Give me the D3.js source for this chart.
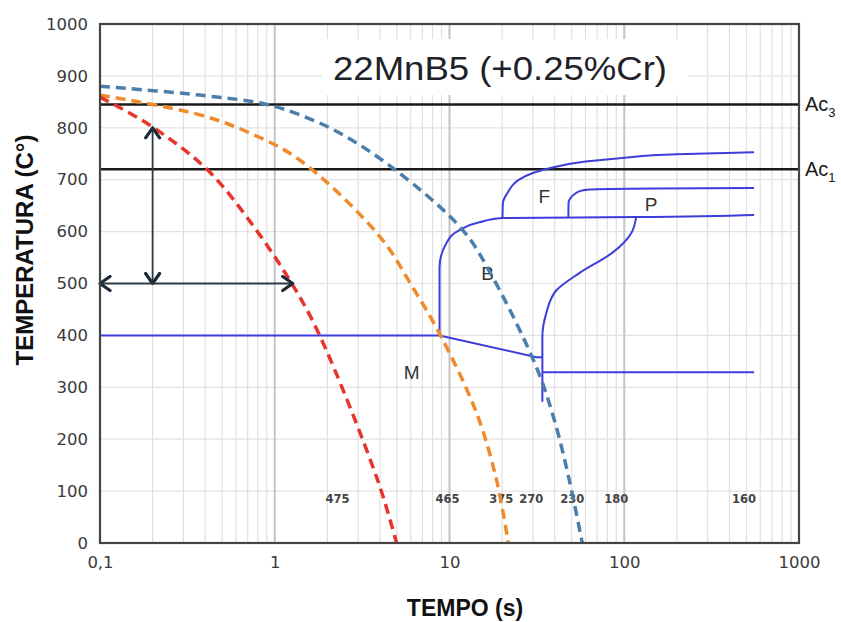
<!DOCTYPE html>
<html><head><meta charset="utf-8">
<script src="https://cdn.jsdelivr.net/npm/d3@7"></script>
<style>
html,body{margin:0;padding:0;background:#fff;}
svg{display:block;}
</style></head>
<body>
<svg id="chart" width="841" height="622"></svg>
<script>
// ---- data ----
const xTickValues = [0.1, 1, 10, 100, 1000];
const xTickLabels = ["0,1", "1", "10", "100", "1000"];
const yTickValues = [0, 100, 200, 300, 400, 500, 600, 700, 800, 900, 1000];

const acLevels = [845, 720];
const acNames = ["3", "1"];

// cooling curves [time s, temperature C]
const coolRed = [[0.1,859],[0.193,805],[0.409,720],[0.72,620],[1.267,497],[1.807,400],[3.88,121],[4.98,0]];
const coolOrange = [[0.1,863],[0.373,825],[0.72,790],[1.389,738],[3.98,591],[6.15,493],[8.88,400],[14.3,250],[18.6,121],[21.7,0]];
const coolBlue = [[0.1,880],[0.373,863],[0.877,846],[1.389,825],[2.352,790],[4.85,720],[11.9,603],[17.6,513],[31.4,339],[39.8,237],[48.5,121],[57.5,0]];

// transformation lines [time s, temperature C]
const msLine = [[0.1,400],[8.77,400],[31.4,358],[34,358]];
const bainiteStart = [[8.77,400],[8.77,532],[9.61,578],[11.4,603],[14.8,618],[20.1,626],[117,628],[553,632]];
const ferriteStart = [[20.1,626],[20.2,655],[21.5,675],[25,700],[30,713],[37.3,722],[60,735],[97.4,742],[200,749],[553,753]];
const pearliteStart = [[47.9,626],[48,655],[51.8,672],[57,679],[63.1,681],[150,683],[553,684]];
const pearliteNose = [[34,272],[34,397],[35.8,443],[40.9,487],[55.3,520],[85.3,559],[109.6,597],[117,628]];
const lowLine = [[34,329],[553,329]];

// hardness values and time where written
const hardLabels = ["475","465","375","270","230","180","160"];
const hardTimes = [2.29, 9.74, 19.8, 29.4, 50.4, 89.9, 485];
const hardTemp = 100;

// phase labels
const phaseNames = ["F","P","B","M"];
const phaseTimes = [34.9, 142.6, 16.5, 6.07];
const phaseTemps = [668, 653, 520, 329];

// arrows
const vArrow = [[0.2,800],[0.2,500]];
const hArrow = [[0.1,500],[1.267,500]];

// ---- chart ----
const svg = d3.select("#chart");
const L = 100, R = 799, T = 24, B = 543;
const x = d3.scaleLog().domain([0.1,1000]).range([L,R]);
const y = d3.scaleLinear().domain([0,1000]).range([B,T]);

// grid
const minor = [];
for (let d = 0.1; d < 1000; d *= 10) for (let k = 2; k <= 9; k++) minor.push(d*k);
svg.append("g").selectAll("line").data(minor).join("line")
  .attr("x1", d=>x(d)).attr("x2", d=>x(d)).attr("y1", T).attr("y2", B)
  .attr("stroke", "#e0e0e0").attr("stroke-width", 1.2);
svg.append("g").selectAll("line").data(yTickValues.slice(1,-1)).join("line")
  .attr("x1", L).attr("x2", R).attr("y1", d=>y(d)).attr("y2", d=>y(d))
  .attr("stroke", "#e3e3e3").attr("stroke-width", 1.2);
svg.append("g").selectAll("line").data(xTickValues.slice(1,-1)).join("line")
  .attr("x1", d=>x(d)).attr("x2", d=>x(d)).attr("y1", T).attr("y2", B)
  .attr("stroke", "#c4c4c4").attr("stroke-width", 2);

// title with white background
svg.append("rect").attr("x", 322).attr("y", 39).attr("width", 366).attr("height", 56).attr("fill", "#fff");
svg.append("text").attr("x", 500).attr("y", 80).attr("text-anchor", "middle")
  .attr("font-family", "Liberation Sans, Arial, sans-serif").attr("font-size", 33)
  .attr("fill", "#1e2228").attr("textLength", 334).attr("lengthAdjust", "spacingAndGlyphs")
  .text("22MnB5 (+0.25%Cr)");

// axes (tick labels)
const yAxis = d3.axisLeft(y).tickValues(yTickValues).tickFormat(d3.format("d")).tickSize(0).tickPadding(12);
const gy = svg.append("g").attr("transform", `translate(${L},0)`).call(yAxis);
gy.select(".domain").remove();
gy.selectAll("text").attr("font-family", "DejaVu Sans, Verdana, sans-serif").attr("font-size", 16.5).attr("fill", "#3a3a3a");

const xAxis = d3.axisBottom(x).tickValues(xTickValues).tickFormat((d,i)=>xTickLabels[i]).tickSize(0).tickPadding(13);
const gx = svg.append("g").attr("transform", `translate(0,${B})`).call(xAxis);
gx.select(".domain").remove();
gx.selectAll("text").attr("font-family", "DejaVu Sans, Verdana, sans-serif").attr("font-size", 16.5).attr("fill", "#3a3a3a");

// axis titles
svg.append("text").attr("transform", "translate(33,250) rotate(-90)").attr("text-anchor", "middle")
  .attr("font-family", "Liberation Sans, Arial, sans-serif").attr("font-weight", "bold").attr("font-size", 24)
  .attr("fill", "#111").text("TEMPERATURA (C°)");
svg.append("text").attr("x", 465).attr("y", 616).attr("text-anchor", "middle")
  .attr("font-family", "Liberation Sans, Arial, sans-serif").attr("font-weight", "bold").attr("font-size", 23)
  .attr("fill", "#111").text("TEMPO (s)");

// hardness numbers
svg.append("g").selectAll("text").data(hardLabels).join("text")
  .attr("x", (d,i)=>x(hardTimes[i])).attr("y", y(hardTemp)+12).attr("text-anchor", "middle")
  .attr("font-family", "DejaVu Sans, Verdana, sans-serif").attr("font-weight", "bold").attr("font-size", 11.5)
  .attr("fill", "#444").text(d=>d);

// Ac lines
svg.append("g").selectAll("line").data(acLevels).join("line")
  .attr("x1", L).attr("x2", R).attr("y1", d=>y(d)).attr("y2", d=>y(d))
  .attr("stroke", "#1a1a1a").attr("stroke-width", 2.5);
const acG = svg.append("g").selectAll("text").data(acLevels).join("text")
  .attr("x", R+6).attr("y", d=>y(d)+7)
  .attr("font-family", "Liberation Sans, Arial, sans-serif").attr("font-size", 20).attr("fill", "#1a1a1a");
acG.append("tspan").text("Ac");
acG.append("tspan").attr("font-size", 13).attr("dy", 6).text((d,i)=>acNames[i]);

// transformation lines
const lin = d3.line().x(d=>x(d[0])).y(d=>y(d[1]));
const monY = d3.line().x(d=>x(d[0])).y(d=>y(d[1])).curve(d3.curveMonotoneY);
const blueLine = "#3d3ddb";
[[msLine, lin],[lowLine, lin],[bainiteStart, monY],[ferriteStart, monY],[pearliteStart, monY],[pearliteNose, monY]]
  .forEach(([data, gen]) => {
    svg.append("path").attr("d", gen(data)).attr("fill", "none")
      .attr("stroke", blueLine).attr("stroke-width", 2);
  });

// phase labels
svg.append("g").selectAll("text").data(phaseNames).join("text")
  .attr("x", (d,i)=>x(phaseTimes[i])).attr("y", (d,i)=>y(phaseTemps[i])).attr("dy", "0.35em")
  .attr("text-anchor", "middle")
  .attr("font-family", "Liberation Sans, Arial, sans-serif").attr("font-size", 19).attr("fill", "#333")
  .text(d=>d);

// cooling curves
const smooth = d3.line().x(d=>x(d[0])).y(d=>y(d[1])).curve(d3.curveCatmullRom.alpha(0.5));
[[coolBlue, "#4b7eaa"],[coolOrange, "#f08a2c"],[coolRed, "#e8352c"]].forEach(([data, col]) => {
  svg.append("path").attr("d", smooth(data)).attr("fill", "none")
    .attr("stroke", col).attr("stroke-width", 3.5).attr("stroke-dasharray", "10,6");
});

// arrows
const defs = svg.append("defs");
defs.append("marker").attr("id", "chev").attr("viewBox", "0 0 14 18")
  .attr("refX", 12).attr("refY", 9).attr("markerWidth", 14).attr("markerHeight", 18)
  .attr("markerUnits", "userSpaceOnUse").attr("orient", "auto-start-reverse")
  .append("path").attr("d", "M2,2 L12,9 L2,16").attr("fill", "none")
  .attr("stroke", "#1c2a38").attr("stroke-width", 3.2).attr("stroke-linecap", "round").attr("stroke-linejoin", "round");
[vArrow, hArrow].forEach(a => {
  svg.append("path").attr("d", lin(a)).attr("fill", "none")
    .attr("stroke", "#2c3a48").attr("stroke-width", 1.8)
    .attr("marker-start", "url(#chev)").attr("marker-end", "url(#chev)");
});

// frame
svg.append("rect").attr("x", L).attr("y", T).attr("width", R-L).attr("height", B-T)
  .attr("fill", "none").attr("stroke", "#444").attr("stroke-width", 2.2);
</script>
</body></html>
